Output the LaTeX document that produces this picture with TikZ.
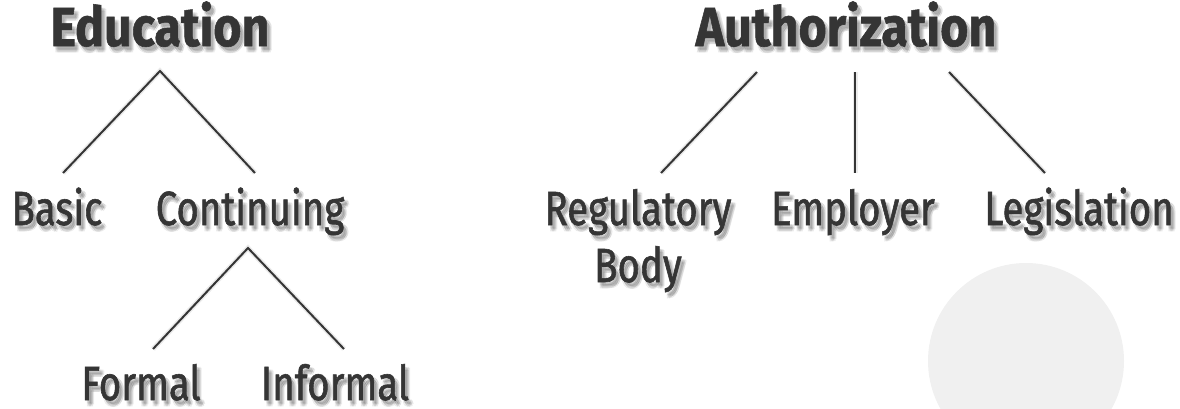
\documentclass[tikz,border=0pt]{standalone}
\usepackage{fontspec}
\setmainfont{Fira Sans}[FakeStretch=0.88]
\newfontfamily\leaffont{Fira Sans}[FakeStretch=0.8, FakeBold=1.2]
\definecolor{ink}{HTML}{353535}
\definecolor{disc}{HTML}{F0F0F0}
\tikzset{
  title/.style={anchor=base, text=ink, inner sep=0pt,
    font=\bfseries\addfontfeatures{FakeBold=1}\fontsize{55}{64}\selectfont},
  leaf/.style={anchor=base, text=ink, inner sep=0pt, align=center,
    font=\leaffont\fontsize{48}{57}\selectfont},
  link/.style={draw=ink, line width=2pt},
  linkshadow/.style={draw=black, line width=5pt, opacity=0.08},
}
% label with a soft drop shadow
\newcommand\shadowed[4]{%
  \foreach \dx/\dy [count=\k] in {2/3,4/3,3/5,4/6,2/6,5/4,3/4}
    \node[#2, text=black, opacity=0.05] (#1-shadow\k) at ([shift={(\dx,\dy)}]#3) {#4};
  \node[#2] (#1) at (#3) {#4};}
\begin{document}
\begin{tikzpicture}[x=1pt, y=-1pt]
  \useasboundingbox (0,0) rectangle (1180,408);
  \fill[disc] (1026,361) circle (98);

  % Education tree
  \shadowed{edu}{title}{160,46}{Education}
  \shadowed{basic}{leaf}{57,225}{Basic}
  \shadowed{cont}{leaf}{250,225}{Continuing}
  \shadowed{formal}{leaf}{141,400}{Formal}
  \shadowed{informal}{leaf}{335,400}{Informal}

  % Authorization tree
  \shadowed{auth}{title}{846,46}{Authorization}
  \shadowed{reg}{leaf}{638,282}{Regulatory\\Body}
  \shadowed{emp}{leaf}{853,225}{Employer}
  \shadowed{leg}{leaf}{1079,225}{Legislation}

  % line ends
  \coordinate (edu-tip) at (160,71);
  \coordinate (basic-top) at (63,173);
  \coordinate (cont-top) at (255,173);
  \coordinate (cont-tip) at (248,248);
  \coordinate (formal-top) at (153,349);
  \coordinate (informal-top) at (344,349);
  \coordinate (auth-left) at (757,72);
  \coordinate (auth-mid) at (855,72);
  \coordinate (auth-right) at (949,72);
  \coordinate (reg-top) at (661,173);
  \coordinate (emp-top) at (855,173);
  \coordinate (leg-top) at (1045,173);

  \begin{scope}[shift={(3,4)}]
    \draw[linkshadow] (basic-top) -- (edu-tip) -- (cont-top);
    \draw[linkshadow] (formal-top) -- (cont-tip) -- (informal-top);
    \draw[linkshadow] (auth-left) -- (reg-top);
    \draw[linkshadow] (auth-mid) -- (emp-top);
    \draw[linkshadow] (auth-right) -- (leg-top);
  \end{scope}
  \draw[link] (basic-top) -- (edu-tip) -- (cont-top);
  \draw[link] (formal-top) -- (cont-tip) -- (informal-top);
  \draw[link] (auth-left) -- (reg-top);
  \draw[link] (auth-mid) -- (emp-top);
  \draw[link] (auth-right) -- (leg-top);
\end{tikzpicture}
\end{document}
